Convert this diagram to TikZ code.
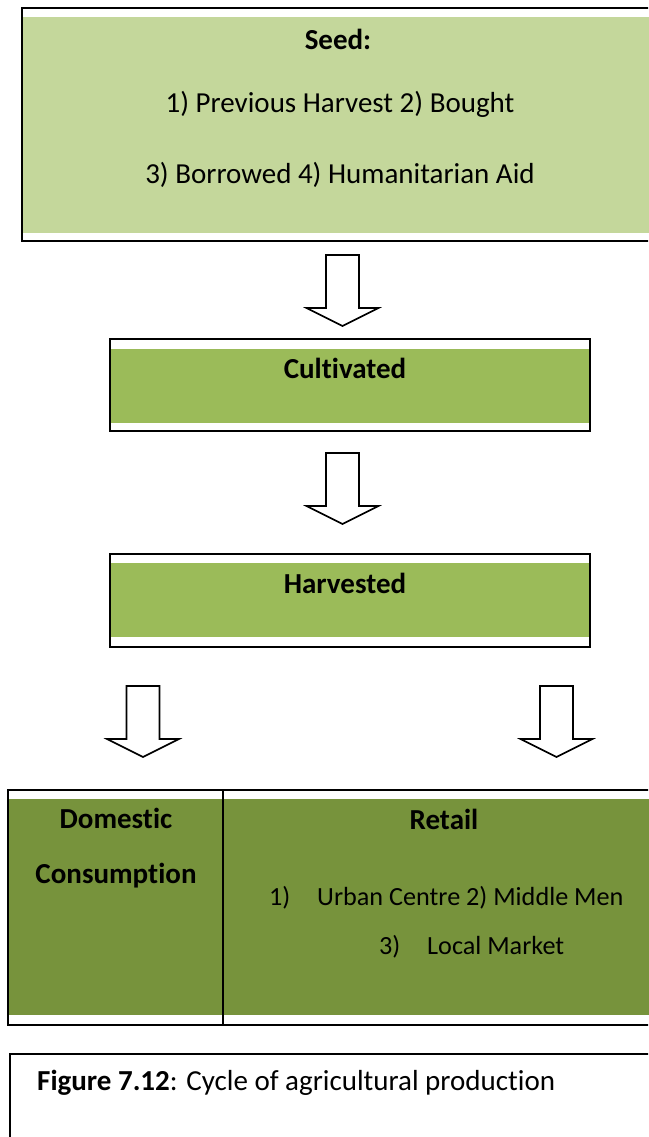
\documentclass[tikz,border=0pt]{standalone}
\usepackage{fontspec}
\setmainfont{Carlito}[Ligatures=NoCommon]
\usetikzlibrary{backgrounds}
\definecolor{seedgreen}{HTML}{C4D79B}
\definecolor{stagegreen}{HTML}{9BBB59}
\definecolor{tablegreen}{HTML}{77933C}

\tikzset{
  frame/.style={draw=black, line width=2, rectangle, inner sep=0pt},
  label/.style={anchor=base, inner sep=0pt, font=\fontsize{29}{35}\selectfont},
  heading/.style={label, font=\fontsize{29}{35}\selectfont\bfseries},
  listitem/.style={anchor=base west, inner sep=0pt, font=\fontsize{26.2}{31}\selectfont},
  blockarrow/.pic={
    \draw[line width=1.6, fill=white, line join=miter]
      (-16.5,0) -- (16.5,0) -- (16.5,53) -- (36,53) -- (0,71)
      -- (-36,53) -- (-16.5,53) -- cycle;
  }
}

\begin{document}
\begin{tikzpicture}[x=1pt, y=-1pt]
\useasboundingbox (0,0) rectangle (648,1137);
\clip (0,0) rectangle (648,1137);

% frames of the stages
\node[frame, minimum width=638, minimum height=233] (seed) at (341,124.5) {};
\node[frame, minimum width=480, minimum height=92] (cult) at (350,385) {};
\node[frame, minimum width=480, minimum height=93] (harv) at (350,600.5) {};
\node[frame, minimum width=215, minimum height=235] (dom) at (115.5,907.5) {};
\node[frame, minimum width=442, minimum height=235] (retail) at (444,907.5) {};
\node[frame, minimum width=650, minimum height=100] (caption) at (335,1104) {};

% coloured bands inside the frames
\begin{scope}[on background layer]
  \fill[seedgreen] ([yshift=-10]seed.north west) rectangle ([yshift=9]seed.south east);
  \fill[stagegreen] ([yshift=-11]cult.north west) rectangle ([yshift=9]cult.south east);
  \fill[stagegreen] ([yshift=-10]harv.north west) rectangle ([yshift=11]harv.south east);
  \fill[tablegreen] ([yshift=-10]dom.north west) rectangle ([yshift=11]dom.south east);
  \fill[tablegreen] ([yshift=-10]retail.north west) rectangle ([yshift=11]retail.south east);
\end{scope}

% texts
\node[heading] (seedtitle) at (338,50) {Seed:};
\node[label] (seedline1) at (340,113) {1) Previous Harvest 2) Bought};
\node[label] (seedline2) at (340,183) {3) Borrowed 4) Humanitarian Aid};
\node[heading] (culttitle) at (345,378) {Cultivated};
\node[heading] (harvtitle) at (345,593) {Harvested};
\node[heading] (domtitle1) at (116,828) {Domestic};
\node[heading] (domtitle2) at (116,883) {Consumption};
\node[heading] (retailtitle) at (444,829) {Retail};
\node[listitem] (retail1) at (269,905) {\makebox[48pt][l]{1)}Urban Centre 2) Middle Men};
\node[listitem] (retail2) at (379,954) {\makebox[48pt][l]{3)}Local Market};
\node[label, anchor=base west] (captext) at (37,1090) {\textbf{Figure 7.12}: Cycle of agricultural production};

% block arrows between the stages
\pic at (342.5,255) {blockarrow};
\pic at (342.5,453) {blockarrow};
\pic at (143,686) {blockarrow};
\pic at (556.5,686) {blockarrow};
\end{tikzpicture}
\end{document}
